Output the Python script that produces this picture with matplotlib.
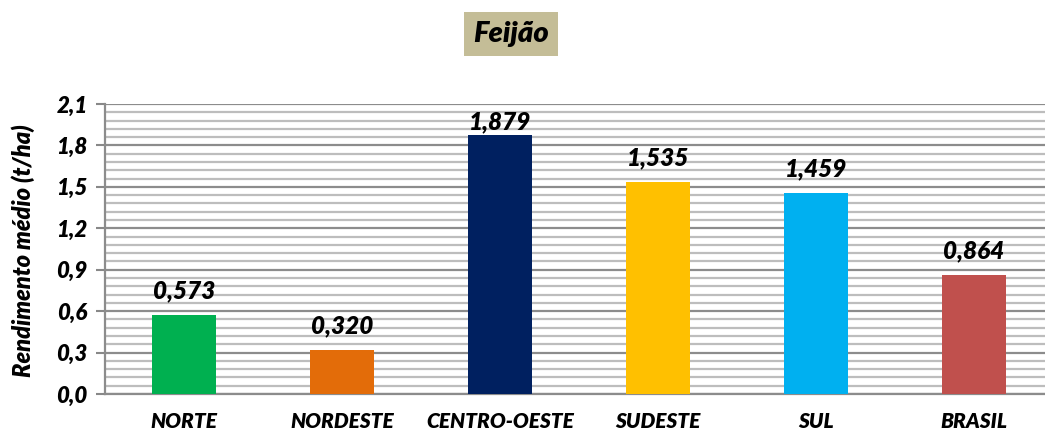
import matplotlib
matplotlib.use('Agg')
import matplotlib.pyplot as plt
import numpy as np

# dados
regioes = ['NORTE', 'NORDESTE', 'CENTRO-OESTE', 'SUDESTE', 'SUL', 'BRASIL']
rendimento = [0.573, 0.320, 1.879, 1.535, 1.459, 0.864]
cores = ['#00B050', '#E36C09', '#002060', '#FFC000', '#00B0F0', '#C0504D']
yticks = [0.0, 0.3, 0.6, 0.9, 1.2, 1.5, 1.8, 2.1]

plt.rcParams['font.family'] = ['Lato', 'DejaVu Sans']
peso = 'heavy'

fig = plt.figure(figsize=(10.45, 4.34), dpi=100)
ax = fig.add_axes([105 / 1045, 40 / 434, 940 / 1045, 290 / 434])

x = np.arange(len(regioes))
ax.bar(x, rendimento, width=0.405, color=cores, zorder=3)

# rótulos acima das barras, mantidos dentro da área do gráfico
for xi, v in zip(x, rendimento):
    ax.text(xi, min(v + 0.174, 1.97), f'{v:.3f}'.replace('.', ','),
            ha='center', va='center', fontsize=17.5, fontweight=peso,
            fontstyle='italic', zorder=4)

ax.set_ylim(0, 2.1)
ax.set_xlim(-0.5, 5.45)
ax.set_yticks(yticks)
ax.set_yticklabels([f'{t:.1f}'.replace('.', ',') for t in yticks],
                   fontsize=16, fontweight=peso, fontstyle='italic')
ax.set_yticks(np.arange(0, 2.1, 0.06), minor=True)
ax.set_xticks(x)
ax.set_xticklabels(regioes, fontsize=15, fontweight=peso, fontstyle='italic')
ax.tick_params(axis='x', length=0, pad=13)
ax.tick_params(axis='y', which='major', length=6.5, width=1.5, color='#888888', pad=6)
ax.tick_params(axis='y', which='minor', length=0)

ax.grid(axis='y', which='major', color='#8c8c8c', lw=1.6, zorder=0)
ax.grid(axis='y', which='minor', color='#bdbdbd', lw=1.6, zorder=0)
for s in ['top', 'right']:
    ax.spines[s].set_visible(False)
ax.spines['left'].set_color('#8c8c8c')
ax.spines['left'].set_linewidth(1.6)
ax.spines['bottom'].set_color('#8c8c8c')
ax.spines['bottom'].set_linewidth(1.6)

fig.text(23 / 1045, 1 - 251 / 434, 'Rendimento médio (t/ha)', rotation=90,
         ha='center', va='center', fontsize=17, fontweight=peso, fontstyle='italic')

fig.text(511 / 1045, 1 - 34 / 434, 'Feijão', ha='center', va='center',
         fontsize=21, fontweight=peso, fontstyle='italic',
         bbox=dict(boxstyle='square,pad=0.3', fc='#C4BD97', ec='none'))

fig.savefig('out.png', dpi=100)
